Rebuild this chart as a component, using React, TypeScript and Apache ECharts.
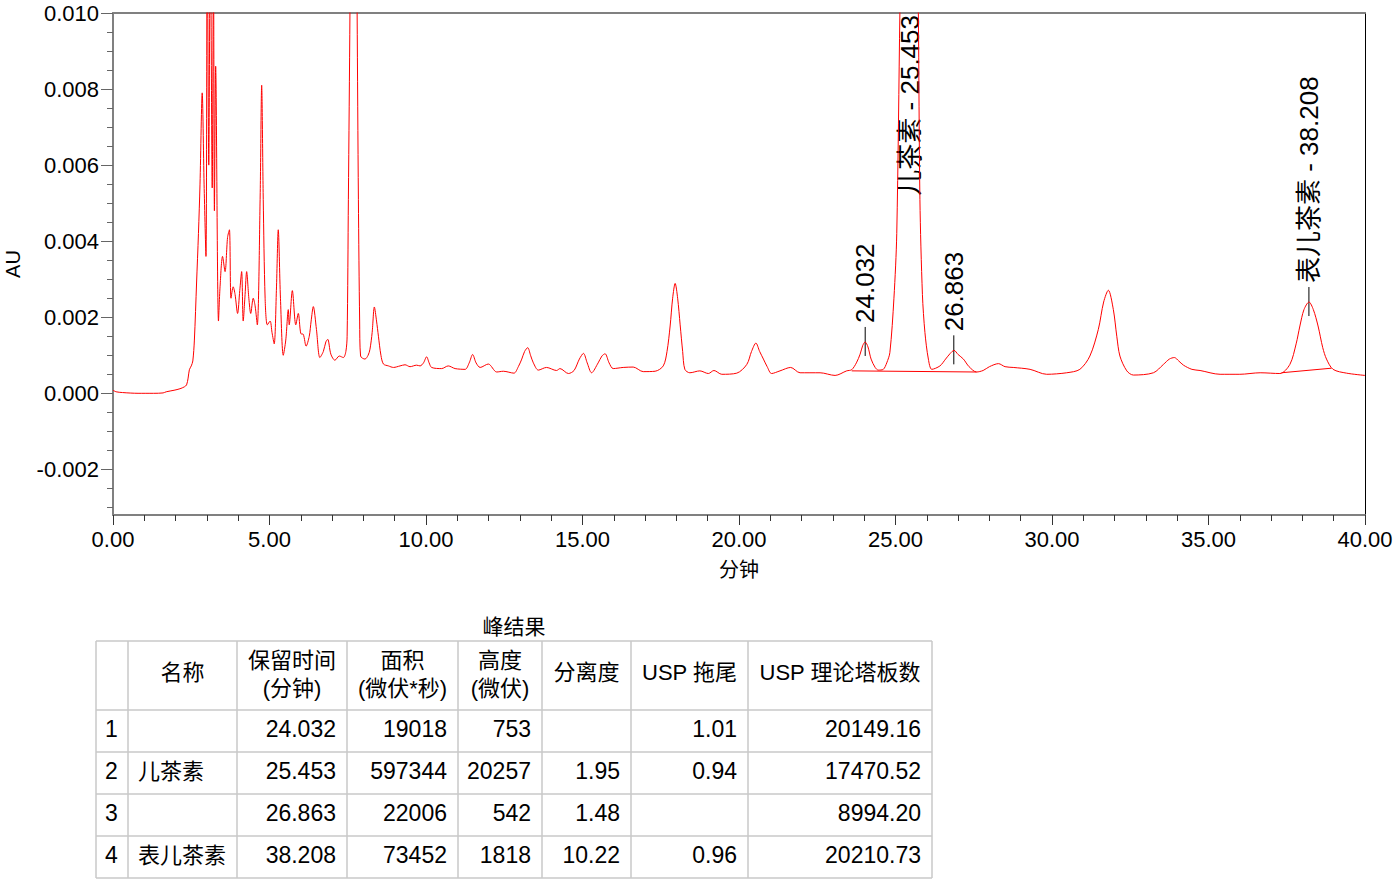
import React, { useEffect, useRef } from "react";
import * as echarts from "echarts";

// ---------- chromatogram data (minutes, AU) ----------
const times = [
  0.0, 0.1, 0.3, 0.8, 1.3, 1.6, 1.7, 1.95, 2.14, 2.28, 2.35, 2.4, 2.44, 2.5, 2.55, 2.6, 2.67, 2.73, 2.78, 2.85,
  2.91, 2.97, 3.01, 3.06, 3.11, 3.17, 3.21, 3.24, 3.28, 3.37, 3.42, 3.5, 3.58, 3.66, 3.72, 3.77, 3.84, 3.9, 3.98, 4.05,
  4.11, 4.16, 4.22, 4.27, 4.34, 4.4, 4.48, 4.54, 4.61, 4.7, 4.75, 4.8, 4.86, 4.93, 5.02, 5.08, 5.15, 5.22, 5.28, 5.35,
  5.44, 5.52, 5.6, 5.63, 5.73, 5.84, 5.92, 6.0, 6.08, 6.17, 6.27, 6.33, 6.4, 6.5, 6.61, 6.72, 6.8, 6.86, 6.96, 7.09,
  7.23, 7.36, 7.44, 7.48, 7.52, 7.57, 7.62, 7.685, 7.75, 7.8, 7.84, 7.88, 7.91, 8.05, 8.15, 8.21, 8.28, 8.35, 8.42, 8.48,
  8.56, 8.64, 8.8, 8.96, 9.17, 9.33, 9.49, 9.7, 9.81, 9.92, 10.02, 10.1, 10.18, 10.5, 10.71, 10.93, 11.25, 11.38, 11.49, 11.6,
  11.73, 11.99, 12.26, 12.47, 12.81, 12.95, 13.06, 13.15, 13.25, 13.34, 13.43, 13.59, 13.85, 14.17, 14.28, 14.55, 14.73, 14.9, 15.03, 15.15,
  15.29, 15.5, 15.62, 15.72, 15.85, 15.98, 16.3, 16.62, 16.94, 17.32, 17.58, 17.7, 17.8, 17.88, 17.96, 18.04, 18.12, 18.2, 18.27, 18.43,
  18.75, 19.02, 19.2, 19.45, 19.93, 20.25, 20.4, 20.54, 20.66, 20.78, 20.9, 21.04, 21.31, 21.65, 21.95, 22.59, 23.07, 23.44, 23.6, 23.75,
  23.87, 23.95, 24.03, 24.12, 24.22, 24.35, 24.45, 24.61, 24.72, 24.82, 24.95, 25.04, 25.14, 25.25, 25.35, 25.453, 25.55, 25.65, 25.73, 25.78,
  25.86, 25.94, 26.05, 26.16, 26.42, 26.6, 26.75, 26.87, 27.0, 27.17, 27.35, 27.59, 27.8, 28.0, 28.29, 28.5, 28.76, 29.3, 29.83, 30.47,
  30.89, 31.21, 31.48, 31.65, 31.8, 31.96, 32.07, 32.17, 32.39, 32.6, 33.24, 33.56, 33.75, 33.91, 34.05, 34.2, 34.47, 34.73, 35.37, 36.0,
  36.65, 37.28, 37.6, 37.8, 37.92, 38.05, 38.21, 38.35, 38.5, 38.65, 38.77, 38.98, 39.41, 40.0,
];
const absorbance = [
  0.00008, 0.00004, 0.00002, 0.0, 0.0, 0.00001, 0.00004, 0.00008, 0.00012, 0.00017, 0.00022, 0.0004, 0.00062, 0.00072, 0.00085, 0.0014, 0.0029, 0.0042, 0.0055, 0.0079,
  0.0055, 0.0036, 0.0125, 0.006, 0.0125, 0.0054, 0.0115, 0.0048, 0.0086, 0.0019, 0.0028, 0.0036, 0.0032, 0.0041, 0.0043, 0.0025, 0.0028, 0.0026, 0.0021, 0.0027,
  0.0032, 0.0019, 0.0026, 0.0032, 0.0025, 0.0021, 0.0025, 0.0023, 0.0018, 0.0051, 0.0081, 0.0051, 0.0025, 0.0018, 0.0019, 0.0016, 0.0013, 0.0027, 0.0043, 0.0025,
  0.001, 0.0014, 0.0022, 0.0018, 0.0027, 0.0018, 0.0021, 0.00157, 0.00155, 0.00124, 0.0015, 0.0019, 0.00228, 0.00168, 0.00094, 0.0011, 0.00135, 0.00142, 0.00103, 0.00087,
  0.00098, 0.00094, 0.0011, 0.0015, 0.0051, 0.01, 0.017, 0.022, 0.017, 0.01, 0.0051, 0.0019, 0.00098, 0.0009, 0.001, 0.00116, 0.0016, 0.00227, 0.0019, 0.0015,
  0.001, 0.00077, 0.00072, 0.00068, 0.00072, 0.00075, 0.0007, 0.00074, 0.00072, 0.0008, 0.00096, 0.0008, 0.00068, 0.00065, 0.00072, 0.00065, 0.00063, 0.0008, 0.00102, 0.0008,
  0.00068, 0.00077, 0.00056, 0.00058, 0.00053, 0.0007, 0.0009, 0.0011, 0.0012, 0.001, 0.0008, 0.00061, 0.00068, 0.0006, 0.00065, 0.00052, 0.0006, 0.0009, 0.00105, 0.0008,
  0.00054, 0.0008, 0.00098, 0.00104, 0.0008, 0.00065, 0.00068, 0.00069, 0.00057, 0.00058, 0.00072, 0.0011, 0.00177, 0.0025, 0.00289, 0.0025, 0.0018, 0.0011, 0.00063, 0.00054,
  0.00059, 0.00052, 0.0006, 0.0005, 0.00053, 0.00076, 0.0011, 0.00132, 0.0011, 0.0009, 0.0007, 0.00052, 0.00059, 0.00068, 0.00054, 0.00054, 0.00047, 0.00059, 0.00062, 0.0008,
  0.00103, 0.00125, 0.00135, 0.00122, 0.0009, 0.00068, 0.00061, 0.00063, 0.0008, 0.00107, 0.0025, 0.0042, 0.01, 0.016, 0.0197, 0.0209, 0.0195, 0.015, 0.01, 0.0051,
  0.0026, 0.0016, 0.0009, 0.00063, 0.00072, 0.0009, 0.00105, 0.00113, 0.00102, 0.0009, 0.0007, 0.00056, 0.0006, 0.0007, 0.00078, 0.0007, 0.00068, 0.00063, 0.0005, 0.00054,
  0.00063, 0.00098, 0.00168, 0.0024, 0.00271, 0.0022, 0.0015, 0.00098, 0.00059, 0.00048, 0.00054, 0.00076, 0.0009, 0.00094, 0.00085, 0.00074, 0.00063, 0.0006, 0.0005, 0.0005,
  0.00054, 0.00052, 0.00076, 0.0013, 0.00177, 0.0022, 0.0024, 0.0022, 0.00177, 0.0012, 0.0009, 0.00063, 0.00053, 0.00047,
];

// integration baselines [t0, v0, t1, v1]
const baselineA = [23.6, 0.00059, 27.59, 0.00056];
const baselineB = [37.33, 0.00054, 38.93, 0.00066];

// peak annotations
const peakLabels = ["24.032", "儿茶素 - 25.453", "26.863", "表儿茶素 - 38.208"];
const peakTimes = [24.032, 25.453, 26.863, 38.208];
const peakApex = [0.00135, 0.0209, 0.00113, 0.0024];

// axes
const X_MIN = 0;
const X_MAX = 40;
const X_STEP = 5;
const Y_MIN = -0.0032;
const Y_MAX = 0.01;
const yMajorTicks = [-0.002, 0.0, 0.002, 0.004, 0.006, 0.008, 0.01];
const yMinorTicks = [-0.003, -0.0025, -0.0015, -0.001, -0.0005, 0.0005, 0.001, 0.0015, 0.0025, 0.003, 0.0035, 0.0045, 0.005, 0.0055, 0.0065, 0.007, 0.0075, 0.0085, 0.009, 0.0095];

// ---------- table data ----------
const tableTitle = "峰结果";
const headerLines = [[""], ["名称"], ["保留时间", "(分钟)"], ["面积", "(微伏*秒)"], ["高度", "(微伏)"], ["分离度"], ["USP 拖尾"], ["USP 理论塔板数"]];
const peakNo = ["1", "2", "3", "4"];
const peakNames = ["", "儿茶素", "", "表儿茶素"];
const retTimes = ["24.032", "25.453", "26.863", "38.208"];
const areas = ["19018", "597344", "22006", "73452"];
const heights = ["753", "20257", "542", "1818"];
const resolution = ["", "1.95", "1.48", "10.22"];
const tailing = ["1.01", "0.94", "", "0.96"];
const plates = ["20149.16", "17470.52", "8994.20", "20210.73"];

const FONT = '"Liberation Sans", Arial, "Noto Sans CJK SC", sans-serif';

// table layout
const colX = [96, 128, 237, 347, 458, 542, 631, 748, 932];
const rowY = [641, 710, 752, 794, 836, 878];

function buildTable(): any[] {
  const els: any[] = [];
  const lineColor = "#c8c8c8";
  colX.forEach((x) => {
    els.push({ type: "line", shape: { x1: x, y1: rowY[0], x2: x, y2: rowY[rowY.length - 1] }, style: { stroke: lineColor, lineWidth: 1.5 } });
  });
  rowY.forEach((y) => {
    els.push({ type: "line", shape: { x1: colX[0], y1: y, x2: colX[colX.length - 1], y2: y }, style: { stroke: lineColor, lineWidth: 1.5 } });
  });
  els.push({
    type: "text",
    x: (colX[0] + colX[colX.length - 1]) / 2,
    y: 626,
    style: { text: tableTitle, fill: "#000", fontSize: 21, fontFamily: FONT, align: "center", verticalAlign: "middle" },
  });
  // headers
  headerLines.forEach((lines, c) => {
    const cx = (colX[c] + colX[c + 1]) / 2;
    const cy = (rowY[0] + rowY[1]) / 2;
    lines.forEach((txt, k) => {
      if (!txt) return;
      const y = lines.length === 1 ? cy - 3 : cy - 15 + k * 28;
      els.push({ type: "text", x: cx, y, style: { text: txt, fill: "#000", fontSize: 22, fontFamily: FONT, align: "center", verticalAlign: "middle" } });
    });
  });
  const cols = [peakNo, peakNames, retTimes, areas, heights, resolution, tailing, plates];
  cols.forEach((col, c) => {
    col.forEach((txt, r) => {
      if (!txt) return;
      const cy = (rowY[r + 1] + rowY[r + 2]) / 2 - 2;
      let x: number;
      let align: string;
      if (c === 0) {
        x = colX[0] + 9;
        align = "left";
      } else if (c === 1) {
        x = colX[1] + 10;
        align = "left";
      } else {
        x = colX[c + 1] - 11;
        align = "right";
      }
      els.push({ type: "text", x, y: cy, style: { text: txt, fill: "#000", fontSize: c === 1 ? 22 : 23, fontFamily: FONT, align, verticalAlign: "middle" } });
    });
  });
  return els;
}

export default function App() {
  const ref = useRef<HTMLDivElement>(null);
  useEffect(() => {
    if (!ref.current) return;
    const chart = echarts.init(ref.current, undefined, { renderer: "svg" });
    const lineData = times.map((t, i) => [t, absorbance[i]]);
    const labelData = peakTimes.map((t, i) => [t, peakApex[i]]);
    const redLine = { color: "#ff0000", width: 1 };
    chart.setOption({
      animation: false,
      backgroundColor: "#fff",
      grid: { left: 113, right: 32, top: 13, bottom: 372, containLabel: false, outerBoundsMode: "none", show: false },
      xAxis: [
        {
          type: "value",
          min: X_MIN,
          max: X_MAX,
          interval: X_STEP,
          position: "bottom",
          name: "分钟",
          nameLocation: "middle",
          nameGap: 45,
          nameTextStyle: { fontSize: 20, fontFamily: FONT, color: "#000" },
          axisLine: { show: true, onZero: false, lineStyle: { color: "#808080", width: 2 } },
          axisTick: { show: true, length: 10, lineStyle: { color: "#333", width: 1 } },
          minorTick: { show: true, splitNumber: 5, length: 6, lineStyle: { color: "#333", width: 1 } },
          axisLabel: { formatter: (v: number) => v.toFixed(2), fontSize: 22, fontFamily: FONT, color: "#000", margin: 13 },
          splitLine: { show: false },
          minorSplitLine: { show: false },
        },
        {
          type: "value",
          min: X_MIN,
          max: X_MAX,
          position: "top",
          axisLine: { show: true, onZero: false, lineStyle: { color: "#808080", width: 2 } },
          axisTick: { show: false },
          axisLabel: { show: false },
          splitLine: { show: false },
        },
      ],
      yAxis: [
        {
          type: "value",
          min: Y_MIN,
          max: Y_MAX,
          position: "left",
          name: "AU",
          nameLocation: "middle",
          nameGap: 90,
          nameTextStyle: { fontSize: 20, fontFamily: FONT, color: "#000" },
          axisLine: { show: true, onZero: false, lineStyle: { color: "#808080", width: 2 } },
          axisTick: { show: true, length: 12, customValues: yMajorTicks, lineStyle: { color: "#666", width: 1 } },
          axisLabel: { customValues: yMajorTicks, formatter: (v: number) => v.toFixed(3), fontSize: 22, fontFamily: FONT, color: "#000", margin: 14 },
          splitLine: { show: false },
        },
        {
          type: "value",
          min: Y_MIN,
          max: Y_MAX,
          position: "left",
          axisLine: { show: false },
          axisTick: { show: true, length: 6, customValues: yMinorTicks, lineStyle: { color: "#666", width: 1 } },
          axisLabel: { show: false },
          splitLine: { show: false },
        },
        {
          type: "value",
          min: Y_MIN,
          max: Y_MAX,
          position: "right",
          axisLine: { show: true, onZero: false, lineStyle: { color: "#000", width: 1 } },
          axisTick: { show: false },
          axisLabel: { show: false },
          splitLine: { show: false },
        },
      ],
      series: [
        {
          type: "line",
          data: lineData,
          xAxisIndex: 0,
          yAxisIndex: 0,
          showSymbol: false,
          symbol: "none",
          smooth: 0.3,
          clip: true,
          lineStyle: redLine,
          silent: true,
        },
        {
          type: "line",
          data: [[baselineA[0], baselineA[1]], [baselineA[2], baselineA[3]]],
          showSymbol: false,
          symbol: "none",
          lineStyle: redLine,
          silent: true,
        },
        {
          type: "line",
          data: [[baselineB[0], baselineB[1]], [baselineB[2], baselineB[3]]],
          showSymbol: false,
          symbol: "none",
          lineStyle: redLine,
          silent: true,
        },
        {
          type: "custom",
          data: labelData,
          clip: false,
          silent: true,
          encode: { x: 0, y: 1 },
          renderItem: (params: any, api: any) => {
            const t = api.value(0);
            const v = api.value(1);
            const text = peakLabels[params.dataIndex];
            const cs = params.coordSys;
            const p = api.coord([t, Math.min(v, Y_MAX)]);
            const offScale = v > Y_MAX;
            const children: any[] = [];
            if (offScale) {
              children.push({
                type: "text",
                x: p[0],
                y: cs.y + 2,
                rotation: Math.PI / 2,
                style: { text, fill: "#000", fontSize: 26, fontFamily: FONT, align: "right", verticalAlign: "middle" },
              });
            } else {
              children.push({
                type: "line",
                shape: { x1: p[0], y1: p[1] - 15, x2: p[0], y2: p[1] + 14 },
                style: { stroke: "#000", lineWidth: 1 },
              });
              children.push({
                type: "text",
                x: p[0],
                y: p[1] - 19,
                rotation: Math.PI / 2,
                style: { text, fill: "#000", fontSize: 26, fontFamily: FONT, align: "left", verticalAlign: "middle" },
              });
            }
            return { type: "group", children };
          },
        },
      ],
      graphic: buildTable(),
    });
    return () => chart.dispose();
  }, []);
  return <div ref={ref} style={{ position: "fixed", left: 0, top: 0, width: 1397, height: 887, background: "#fff" }} />;
}
